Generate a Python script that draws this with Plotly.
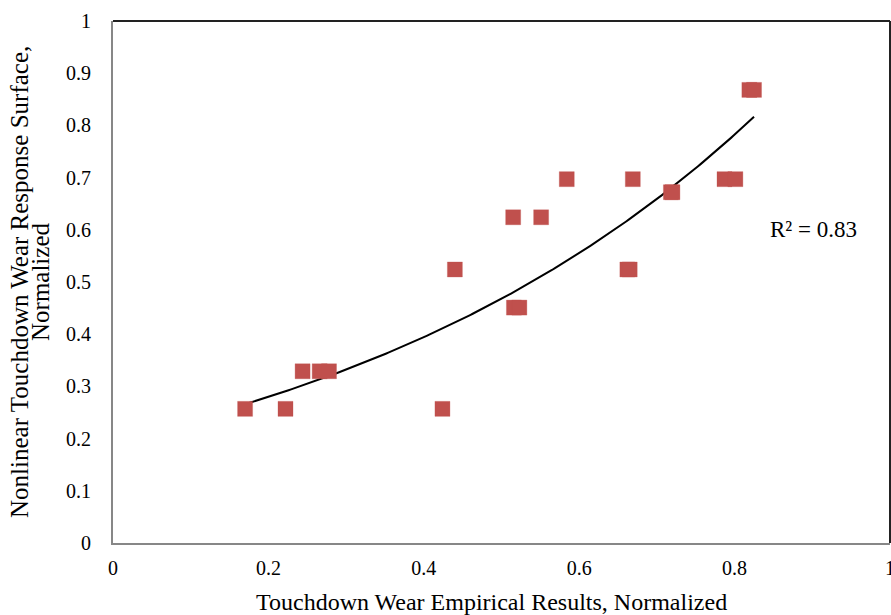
import numpy as np
import plotly.graph_objects as go

# Data
x_vals = [0.170, 0.222, 0.244, 0.266, 0.278, 0.424, 0.440, 0.515, 0.516, 0.523,
          0.551, 0.584, 0.662, 0.665, 0.669, 0.718, 0.720, 0.787, 0.801, 0.819, 0.825]
y_vals = [0.257, 0.257, 0.329, 0.329, 0.329, 0.257, 0.524, 0.624, 0.451, 0.451,
          0.624, 0.697, 0.524, 0.524, 0.697, 0.672, 0.672, 0.697, 0.697, 0.868, 0.868]

x_ticks = [0, 0.2, 0.4, 0.6, 0.8, 1]
x_tick_labels = ["0", "0.2", "0.4", "0.6", "0.8", "1"]
y_ticks = [0, 0.1, 0.2, 0.3, 0.4, 0.5, 0.6, 0.7, 0.8, 0.9, 1]
y_tick_labels = ["0", "0.1", "0.2", "0.3", "0.4", "0.5", "0.6", "0.7", "0.8", "0.9", "1"]

x_title = "Touchdown Wear Empirical Results, Normalized"
y_title_1 = "Nonlinear Touchdown Wear Response Surface,"
y_title_2 = "Normalized"
r2_text = "R² = 0.83"

# Exponential trendline (Excel style: fit ln(y) linear in x)
xa = np.array(x_vals)
ya = np.array(y_vals)
b, lna = np.polyfit(xa, np.log(ya), 1)
xt = np.linspace(xa.min(), xa.max(), 200)
yt = np.exp(lna) * np.exp(b * xt)

FONT = "Liberation Serif"

fig = go.Figure()
fig.add_trace(go.Scatter(
    x=xt, y=yt, mode="lines",
    line=dict(color="black", width=2),
    hoverinfo="skip", showlegend=False,
))
fig.add_trace(go.Scatter(
    x=x_vals, y=y_vals, mode="markers",
    marker=dict(symbol="square", size=15, color="#C0504D",
                line=dict(color="rgba(192,80,77,0.6)", width=0.5)),
    showlegend=False,
))

fig.update_layout(
    width=891, height=615,
    margin=dict(l=113, r=1, t=21, b=72, autoexpand=False),
    paper_bgcolor="white", plot_bgcolor="white",
    font=dict(family=FONT, size=20, color="black"),
    xaxis=dict(range=[0, 1], tickvals=x_ticks, ticktext=x_tick_labels,
               showgrid=False, zeroline=False, showline=True,
               linecolor="#878787", linewidth=2, ticks="",
               ticklabelstandoff=6, ticklabeloverflow="allow",
               automargin=False,
               tickfont=dict(family=FONT, size=20, color="black")),
    yaxis=dict(range=[0, 1], tickvals=y_ticks, ticktext=y_tick_labels,
               showgrid=False, zeroline=False, showline=True,
               linecolor="#878787", linewidth=2, ticks="",
               ticklabelstandoff=16, automargin=False,
               tickfont=dict(family=FONT, size=20, color="black")),
    shapes=[
        dict(type="line", xref="paper", yref="paper", x0=0, x1=1, y0=1, y1=1,
             line=dict(color="#222222", width=2)),
        dict(type="line", xref="paper", yref="paper", x0=1, x1=1, y0=0, y1=1,
             line=dict(color="#222222", width=2)),
    ],
    annotations=[
        dict(text=x_title, xref="paper", yref="paper", x=0.5, y=0,
             xanchor="center", yanchor="middle", xshift=-10, yshift=-59,
             showarrow=False, font=dict(family=FONT, size=24, color="black")),
        dict(text=y_title_1, xref="paper", yref="paper", x=0, y=0.5,
             xanchor="center", yanchor="middle", xshift=-94, textangle=-90,
             showarrow=False, font=dict(family=FONT, size=25, color="black")),
        dict(text=y_title_2, xref="paper", yref="paper", x=0, y=0.5,
             xanchor="center", yanchor="middle", xshift=-73, textangle=-90,
             showarrow=False, font=dict(family=FONT, size=25, color="black")),
        dict(text=r2_text, xref="paper", yref="paper", x=0.843, y=0.6,
             xanchor="left", yanchor="middle", showarrow=False,
             font=dict(family=FONT, size=23, color="black")),
    ],
)

fig.write_html("out.html")
